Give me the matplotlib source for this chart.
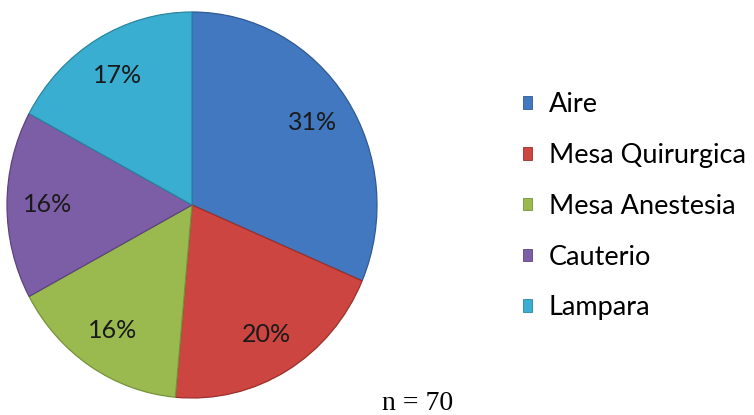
import matplotlib
matplotlib.use("Agg")
import matplotlib.pyplot as plt
from matplotlib.patches import Patch

categories = ["Aire", "Mesa Quirurgica", "Mesa Anestesia", "Cauterio", "Lampara"]
counts = [22, 14, 11, 11, 12]
colors = ["#4178c0", "#cc4540", "#9aba4f", "#7c5ea6", "#3aaed0"]
edges = ["#2f5a94", "#9c302c", "#76923a", "#5c437f", "#2a85a0"]

W, H = 754, 415
fig = plt.figure(figsize=(W / 100, H / 100), dpi=100)
fig.patch.set_facecolor("white")

ax = fig.add_axes([7 / W, 17 / H, 370 / W, 386 / H])
wedges, texts, autotexts = ax.pie(
    counts,
    colors=colors,
    startangle=90,
    counterclock=False,
    autopct=lambda p: f"{p:.0f}%",
    pctdistance=0.78,
    wedgeprops=dict(linewidth=0.9),
    textprops=dict(fontsize=18, family="Lato", color="#1a1a1a"),
)
for w, ec in zip(wedges, edges):
    w.set_edgecolor(ec)
ax.set_aspect("auto")
ax.set_xlim(-1.0, 1.0)
ax.set_ylim(-1.0, 1.0)

handles = [Patch(facecolor=c, edgecolor=e, linewidth=0.6) for c, e in zip(colors, edges)]
fig.legend(
    handles, categories,
    loc="upper left",
    bbox_to_anchor=(499 / W, 1 - 68 / H),
    frameon=False,
    prop=dict(family="Lato", size=19.5),
    handlelength=0.33,
    handleheight=0.33,
    handletextpad=0.6,
    labelspacing=0.95,
)

fig.text(418 / W, 5 / H, "n = 70", ha="center", va="baseline",
         family="Liberation Serif", fontsize=20, color="black")

fig.savefig("out.png", dpi=100)
